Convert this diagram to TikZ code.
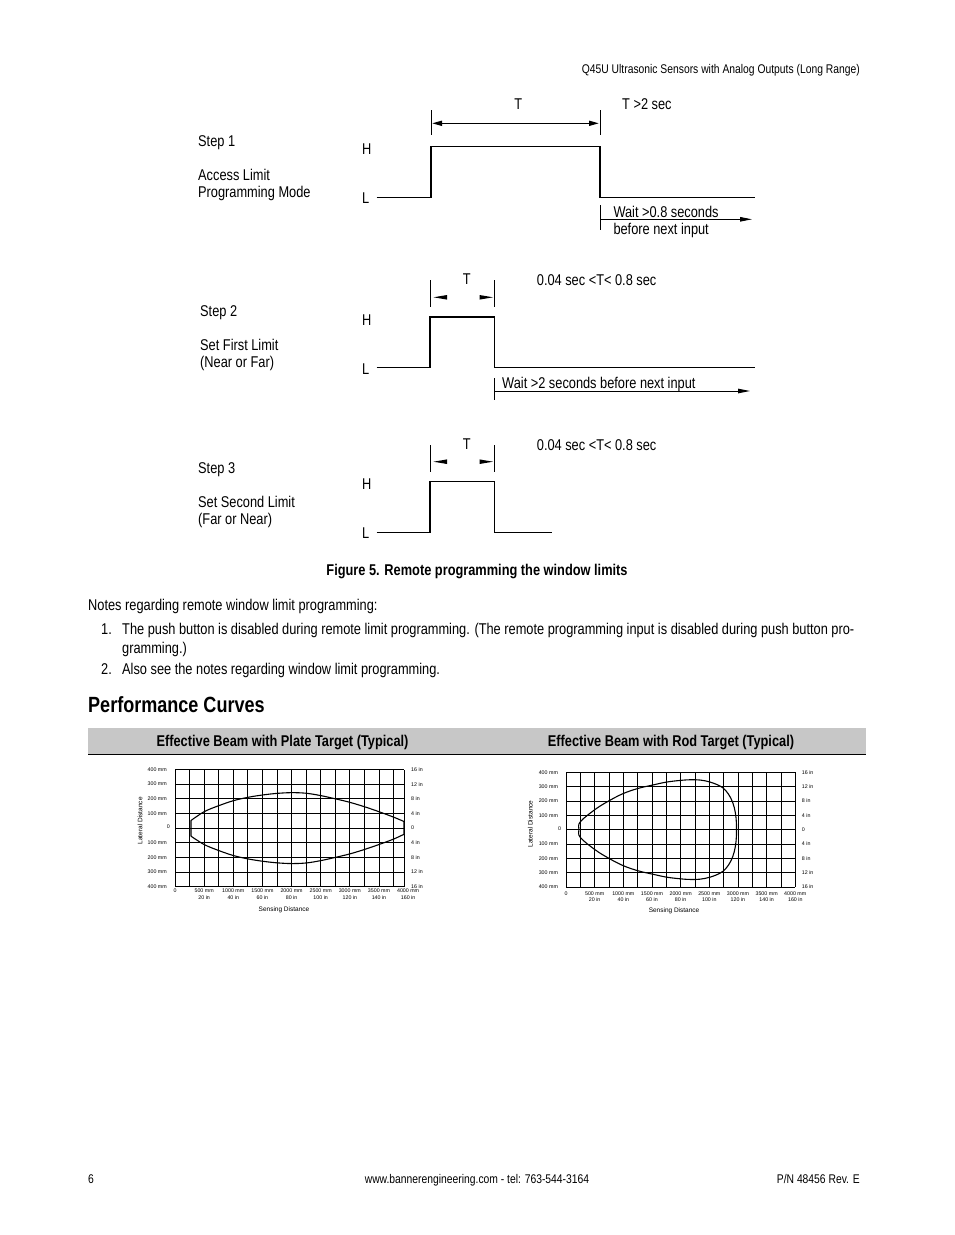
\documentclass[tikz,border=0pt]{standalone}
\usepackage{fontspec}
\setmainfont[FakeStretch=0.82]{Liberation Sans}
\newfontfamily\chartfont{Liberation Sans}
\usetikzlibrary{arrows.meta}
\begin{document}
\begin{tikzpicture}[x=1pt,y=-1pt,
  txt/.style={inner sep=0pt, anchor=base west, font=\fontsize{15.6}{18}\selectfont},
  btxt/.style={inner sep=0pt, anchor=base, font=\bfseries\fontsize{15.6}{18}\selectfont},
  smalltxt/.style={inner sep=0pt, font=\fontsize{12.6}{15}\selectfont},
  wave/.style={line width=1.3pt, line join=miter},
  tickline/.style={line width=1pt},
  gridl/.style={line width=0.8pt},
  curve/.style={line width=1.1pt, line join=round},
  lbl/.style={inner sep=0pt, font=\chartfont\fontsize{5.3}{6}\selectfont},
  ttl/.style={inner sep=0pt, font=\chartfont\fontsize{6.5}{7}\selectfont},
  tri/.style={fill=black},
  warrow/.style={line width=1pt, -{Triangle[length=12pt,width=4.5pt]}}
]
\useasboundingbox (0,0) rectangle (954,1235);
\fill[white] (0,0) rectangle (954,1235);

% header and footer
\node[smalltxt, anchor=base east] (hdr) at (860,73.5) {Q45U Ultrasonic Sensors with Analog Outputs (Long Range)};
\node[smalltxt, anchor=base west] (pg) at (88,1183.5) {6};
\node[smalltxt, anchor=base] (web) at (477,1183.5) {www.bannerengineering.com - tel: 763-544-3164};
\node[smalltxt, anchor=base east] (pn) at (860,1183.5) {P/N 48456 Rev. E};

% ---------- Step 1 ----------
\node[txt] (s1) at (198,146.5) {Step 1};
\node[txt] (s1a) at (198,180.5) {Access Limit};
\node[txt] (s1b) at (198,197.5) {Programming Mode};
\node[txt] (h1) at (362,154.5) {H};
\node[txt] (l1) at (362,203.5) {L};
\node[txt, anchor=base] (t1) at (518.3,109) {T};
\node[txt] (t1c) at (622,109) {T >2 sec};
\draw[wave] (376.7,197.3) -- (431,197.3) -- (431,146.7) -- (600,146.7) -- (600,197.3) -- (755,197.3);
\coordinate (k1a) at (431,110); \coordinate (k1b) at (431,135);
\coordinate (k1c) at (600,110); \coordinate (k1d) at (600,135);
\draw[tickline] (k1a) -- (k1b);
\draw[tickline] (k1c) -- (k1d);
\coordinate (d1a) at (432,123.3); \coordinate (d1b) at (599,123.3);
\draw[line width=1.5pt, {Triangle[length=10pt,width=5pt]}-{Triangle[length=10pt,width=5pt]}] (d1a) -- (d1b);
\coordinate (w1s) at (600,219.3); \coordinate (w1e) at (752,219.3);
\draw[tickline] (600,205) -- (600,230);
\draw[warrow] (w1s) -- (w1e);
\node[txt] (w1a) at (613.3,217.3) {Wait >0.8 seconds};
\node[txt] (w1b) at (613.3,234) {before next input};

% ---------- Step 2 ----------
\node[txt] (s2) at (200,316.5) {Step 2};
\node[txt] (s2a) at (200,350.5) {Set First Limit};
\node[txt] (s2b) at (200,367.5) {(Near or Far)};
\node[txt] (h2) at (362,325.5) {H};
\node[txt] (l2) at (362,374.5) {L};
\node[txt, anchor=base] (t2) at (466.7,284) {T};
\node[txt] (t2c) at (536.7,285) {0.04 sec <T< 0.8 sec};
\draw[wave] (376.7,367.3) -- (430,367.3) -- (430,316.7) -- (494.3,316.7) -- (494.3,367.3) -- (755,367.3);
\draw[line width=2pt] (430,316.7) -- (494.3,316.7);
\draw[tickline] (430,280) -- (430,306.7);
\draw[tickline] (494.3,280) -- (494.3,306.7);
\fill[tri] (433.5,297.3) -- (447,295) -- (447,299.6) -- cycle;
\fill[tri] (493,297.3) -- (479.5,295) -- (479.5,299.6) -- cycle;
\coordinate (w2s) at (494.3,391); \coordinate (w2e) at (750,391);
\draw[tickline] (494.3,378) -- (494.3,400);
\draw[warrow] (w2s) -- (w2e);
\node[txt] (w2) at (502,388.5) {Wait >2 seconds before next input};

% ---------- Step 3 ----------
\node[txt] (s3) at (198,473.5) {Step 3};
\node[txt] (s3a) at (198,507.5) {Set Second Limit};
\node[txt] (s3b) at (198,524.5) {(Far or Near)};
\node[txt] (h3) at (362,489.5) {H};
\node[txt] (l3) at (362,538.5) {L};
\node[txt, anchor=base] (t3) at (466.7,449) {T};
\node[txt] (t3c) at (536.7,450) {0.04 sec <T< 0.8 sec};
\draw[wave] (376.7,532.3) -- (430,532.3) -- (430,481.7) -- (494.3,481.7) -- (494.3,532.3) -- (551.7,532.3);
\draw[tickline] (430,445) -- (430,471.7);
\draw[tickline] (494.3,445) -- (494.3,471.7);
\fill[tri] (433.5,461.7) -- (447,459.4) -- (447,464) -- cycle;
\fill[tri] (493,461.7) -- (479.5,459.4) -- (479.5,464) -- cycle;

% caption and notes
\node[btxt] (cap) at (477,575.5) {Figure 5. Remote programming the window limits};
\node[txt] (n0) at (88,610) {Notes regarding remote window limit programming:};
\node[txt] (n1) at (101,634) {1.};
\node[txt] (n1t) at (122,634) {The push button is disabled during remote limit programming. (The remote programming input is disabled during push button pro-};
\node[txt] (n1u) at (122,653) {gramming.)};
\node[txt] (n2) at (101,674) {2.};
\node[txt] (n2t) at (122,674) {Also see the notes regarding window limit programming.};

\node[inner sep=0pt, anchor=base west, font=\bfseries\fontsize{22}{26}\selectfont] (pc) at (88,712) {Performance Curves};

% table header band
\fill[black!22] (88,727.5) rectangle (866,754);
\draw[line width=1.2pt] (88,754.5) -- (866,754.5);
\node[btxt] (th1) at (282.5,746) {Effective Beam with Plate Target (Typical)};
\node[btxt] (th2) at (671,746) {Effective Beam with Rod Target (Typical)};

% ---------- Left chart (plate) ----------
\begin{scope}[shift={(175,828.1)}, x=14.57pt, y=14.65pt]
  \foreach \k in {0,...,15} \draw[gridl] (\k,-4) -- (\k,4);
  \draw[gridl] (15.75,-4) -- (15.75,4);
  \foreach \j in {-4,...,4} \draw[gridl] (0,\j) -- (15.75,\j);
  \foreach \t [count=\n] in {400 mm,300 mm,200 mm,100 mm,,100 mm,200 mm,300 mm,400 mm}
    \node[lbl, anchor=east] (pl\n) at (-0.55,{5-\n}) {\t};
  \node[lbl] (pl0) at (-0.45,0.1) {0};
  \foreach \t [count=\n] in {16 in,12 in,8 in,4 in,0,4 in,8 in,12 in,16 in}
    \node[lbl, anchor=west] (pr\n) at (16.2,{5-\n}) {\t};
  \node[lbl] (pbx0) at (0,-4.3) {0};
  \foreach \n in {1,...,8} {
    \pgfmathtruncatemacro\mmv{500*\n}
    \pgfmathtruncatemacro\inv{20*\n}
    \node[lbl] (pbx\n) at ({2*\n},-4.3) {\mmv\ mm};
    \node[lbl] (pbi\n) at ({2*\n},-4.72) {\inv\ in};
  }
  \node[ttl] (psd) at (7.48,-5.59) {Sensing Distance};
  \node[ttl, rotate=90] (pld) at (-2.4,0.5) {Lateral Distance};
  \draw[curve] plot[smooth, tension=0.55] coordinates {(1.1,0.52) (2,1.12) (3,1.53) (4,1.87) (5,2.1) (6,2.26) (7,2.37) (8,2.42) (9,2.38) (10,2.22) (11,2.0) (12,1.76) (13,1.46) (14,1.12) (15,0.75) (15.72,0.45)}
    -- plot[smooth, tension=0.55] coordinates {(15.72,-0.42) (15,-0.75) (14,-1.12) (13,-1.46) (12,-1.76) (11,-2.0) (10,-2.22) (9,-2.38) (8,-2.42) (7,-2.37) (6,-2.26) (5,-2.1) (4,-1.87) (3,-1.53) (2,-1.12) (1.1,-0.55)} -- cycle;
\end{scope}

% ---------- Right chart (rod) ----------
\begin{scope}[shift={(566,829.6)}, x=14.33pt, y=14.33pt]
  \foreach \k in {0,...,16} \draw[gridl] (\k,-4) -- (\k,4);
  \foreach \j in {-4,...,4} \draw[gridl] (0,\j) -- (16,\j);
  \foreach \t [count=\n] in {400 mm,300 mm,200 mm,100 mm,,100 mm,200 mm,300 mm,400 mm}
    \node[lbl, anchor=east] (rl\n) at (-0.55,{5-\n}) {\t};
  \node[lbl] (rl0) at (-0.45,0.05) {0};
  \foreach \t [count=\n] in {16 in,12 in,8 in,4 in,0,4 in,8 in,12 in,16 in}
    \node[lbl, anchor=west] (rr\n) at (16.45,{5-\n}) {\t};
  \node[lbl] (rbx0) at (0,-4.45) {0};
  \foreach \n in {1,...,8} {
    \pgfmathtruncatemacro\mmv{500*\n}
    \pgfmathtruncatemacro\inv{20*\n}
    \node[lbl] (rbx\n) at ({2*\n},-4.45) {\mmv\ mm};
    \node[lbl] (rbi\n) at ({2*\n},-4.86) {\inv\ in};
  }
  \node[ttl] (rsd) at (7.54,-5.68) {Sensing Distance};
  \node[ttl, rotate=90] (rld) at (-2.5,0.4) {Lateral Distance};
  \draw[curve] plot[smooth cycle, tension=0.6] coordinates {(0.9,0) (1.0,0.55) (2.05,1.42) (3.02,2.02) (4,2.52) (5.05,2.88) (6.05,3.11) (7.03,3.32) (8.05,3.44) (8.7,3.48) (9.35,3.46) (10.05,3.32) (10.75,3.04) (11.15,2.72) (11.5,2.2) (11.74,1.55) (11.87,0.79) (11.9,0) (11.87,-0.79) (11.74,-1.55) (11.5,-2.2) (11.15,-2.72) (10.75,-3.04) (10.05,-3.32) (9.35,-3.46) (8.7,-3.48) (8.05,-3.44) (7.03,-3.32) (6.05,-3.11) (5.05,-2.88) (4,-2.52) (3.02,-2.02) (2.05,-1.42) (1.0,-0.55)};
\end{scope}
\end{tikzpicture}
\end{document}
